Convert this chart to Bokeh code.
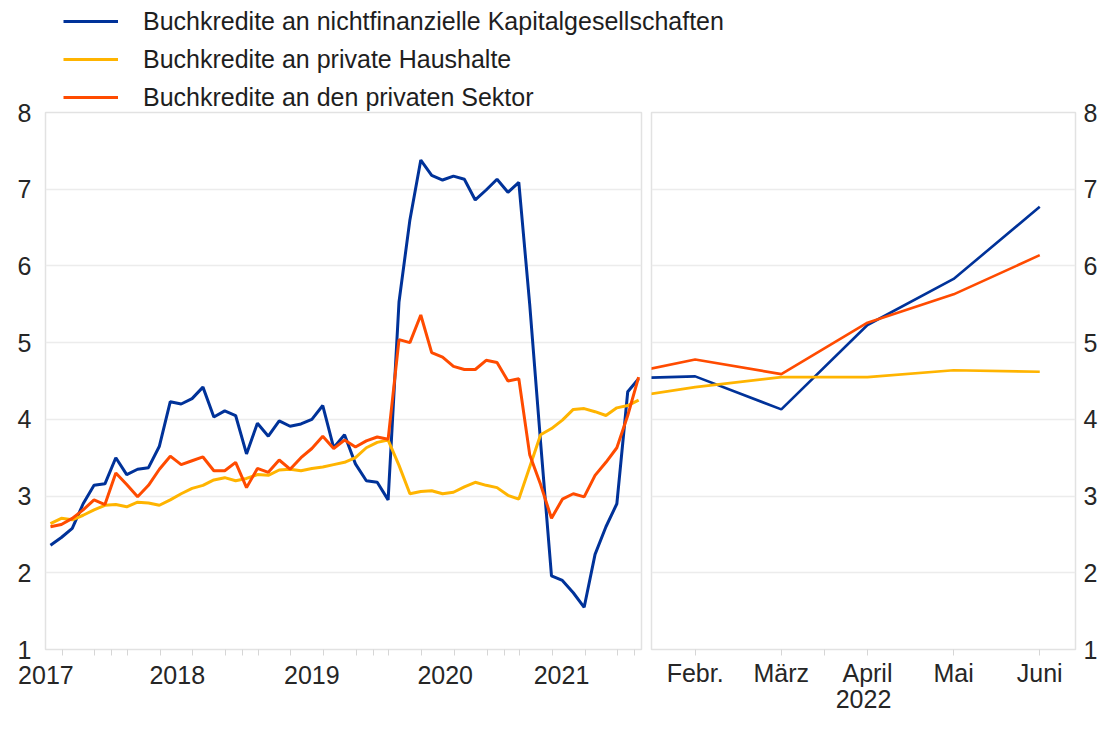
from bokeh.plotting import figure
from bokeh.models import Range1d, FixedTicker, Legend, LegendItem
from bokeh.layouts import row, column
from bokeh.embed import file_html
from bokeh.resources import INLINE

# ---------------- data ----------------
series_labels = [
    "Buchkredite an nichtfinanzielle Kapitalgesellschaften",
    "Buchkredite an private Haushalte",
    "Buchkredite an den privaten Sektor",
]
series_colors = ["#003299", "#FFB400", "#FF4B00"]

# Left panel: monthly values, Jul 2017 - Jan 2022
start_year = 2017
start_month = 7
nfc_monthly = [
    2.36, 2.46, 2.58, 2.90, 3.14, 3.16,
    3.50, 3.28, 3.35, 3.37, 3.65, 4.23, 4.20, 4.27, 4.42, 4.03, 4.11, 4.05,
    3.55, 3.95, 3.78, 3.98, 3.91, 3.94, 4.00, 4.18, 3.63, 3.80, 3.42, 3.20,
    3.18, 2.95, 5.53, 6.60, 7.38, 7.18, 7.12, 7.17, 7.13, 6.86, 6.99, 7.13,
    6.96, 7.09, 5.50, 3.70, 1.96, 1.90, 1.74, 1.55, 2.24, 2.60, 2.90, 4.36,
    4.53,
]
hh_monthly = [
    2.64, 2.71, 2.69, 2.75, 2.82, 2.88,
    2.89, 2.86, 2.92, 2.91, 2.88, 2.95, 3.03, 3.10, 3.14, 3.21, 3.24, 3.20,
    3.23, 3.28, 3.27, 3.34, 3.35, 3.33, 3.36, 3.38, 3.41, 3.44, 3.50, 3.63,
    3.70, 3.73, 3.40, 3.03, 3.06, 3.07, 3.03, 3.05, 3.12, 3.18, 3.14, 3.11,
    3.01, 2.96, 3.38, 3.80, 3.88, 3.99, 4.13, 4.14, 4.10, 4.05, 4.15, 4.18,
    4.25,
]
ps_monthly = [
    2.60, 2.63, 2.71, 2.82, 2.95, 2.89,
    3.30, 3.15, 2.99, 3.14, 3.35, 3.52, 3.41, 3.46, 3.51, 3.33, 3.33, 3.44,
    3.11, 3.36, 3.31, 3.47, 3.35, 3.50, 3.62, 3.78, 3.62, 3.73, 3.64, 3.72,
    3.77, 3.74, 5.04, 5.00, 5.36, 4.87, 4.81, 4.69, 4.65, 4.65, 4.77, 4.74,
    4.50, 4.53, 3.54, 3.15, 2.71, 2.96, 3.03, 2.99, 3.27, 3.44, 3.63, 4.05,
    4.55,
]
year_labels = ["2017", "2018", "2019", "2020", "2021"]

# Right panel: Jan - Jun 2022 (January only as the line's entry point)
month_numbers_2022 = [1, 2, 3, 4, 5, 6]
month_labels_2022 = ["Jan.", "Febr.", "März", "April", "Mai", "Juni"]
nfc_2022 = [4.53, 4.56, 4.13, 5.23, 5.83, 6.77]
hh_2022 = [4.25, 4.42, 4.55, 4.55, 4.64, 4.62]
ps_2022 = [4.55, 4.78, 4.59, 5.26, 5.63, 6.14]
right_year_label = "2022"

y_ticks = [1, 2, 3, 4, 5, 6, 7, 8]

# ---------------- styling ----------------
FONT = "Liberation Sans"
TXT = "#262626"
GRID = "#ececec"
FRAME = "#e2e2e2"
TICK = "#d6d6d6"
W_TOTAL, H_TOTAL = 1100, 715
TOP, BOTTOM = 112, 66
L_BORDER, L_FRAME = 45, 596
LEFT_W = L_BORDER + L_FRAME + 5
R_FRAME = 427
LEG_H = 114          # height of the legend strip (overlaps the chart's top border)
LEG_BLOCK = 106      # 3 rows of 30px + 2 gaps of 8px
LEG_TOP = 6

x_left = [start_year + (start_month - 1) / 12 + i / 12 for i in range(len(nfc_monthly))]
years = [int(s) for s in year_labels]
label_pos = [years[0] + 0.465, years[1] + 0.47, years[2] + 0.5, years[3] + 0.52, years[4] + 0.41]
minor_pos = [y + f for y in years for f in (0.09, 0.34, 0.59, 0.84, 0.97) if 2017.5 < y + f < 2022.02]


def style_common(p):
    p.outline_line_color = FRAME
    p.outline_line_width = 1.5
    p.xgrid.grid_line_color = None
    p.ygrid.grid_line_color = GRID
    p.ygrid.grid_line_width = 1.5
    p.ygrid.ticker = FixedTicker(ticks=y_ticks)
    for ax in p.xaxis + p.yaxis:
        ax.axis_line_color = None
        ax.major_label_text_font = FONT
        ax.major_label_text_font_size = "25px"
        ax.major_label_text_color = TXT
    for ax in p.yaxis:
        ax.ticker = FixedTicker(ticks=y_ticks)
        ax.major_tick_line_color = None
        ax.minor_tick_line_color = None
        ax.major_tick_out = 0


# ---------------- legend strip ----------------
leg_fig = figure(
    width=W_TOTAL, height=LEG_H, x_range=Range1d(0, 1), y_range=Range1d(0, 1),
    output_backend="svg", toolbar_location=None,
    x_axis_location=None, y_axis_location=None,
    min_border=0,
)
leg_fig.outline_line_color = None
leg_fig.grid.grid_line_color = None
leg_fig.background_fill_color = "white"
leg_fig.border_fill_color = "white"
# legend-only renderers: their points lie outside the strip's visible range
leg_renderers = [leg_fig.line(x=[5, 6], y=[5, 6], line_color=c, line_width=3) for c in series_colors]
legend = Legend(
    items=[LegendItem(label=lab, renderers=[r]) for lab, r in zip(series_labels, leg_renderers)],
    location=(63, LEG_H - LEG_BLOCK - LEG_TOP), orientation="vertical",
    label_text_font=FONT, label_text_font_size="25px", label_text_color="#1e1e1e",
    glyph_width=55, glyph_height=30, label_height=30,
    label_standoff=25, spacing=8, padding=0, margin=0,
    border_line_color=None, background_fill_alpha=0,
)
leg_fig.add_layout(legend, "center")

# ---------------- left panel ----------------
left = figure(
    width=W_TOTAL, height=H_TOTAL,
    x_range=Range1d(2017.462, 2022.022), y_range=Range1d(1, 8),
    output_backend="svg", toolbar_location=None,
    min_border_left=L_BORDER, min_border_right=W_TOTAL - L_BORDER - L_FRAME,
    min_border_top=TOP, min_border_bottom=BOTTOM,
)
left.background_fill_alpha = 0
left.border_fill_alpha = 0
style_common(left)

left.line(x_left, nfc_monthly, line_color=series_colors[0], line_width=3)
left.line(x_left, hh_monthly, line_color=series_colors[1], line_width=3)
left.line(x_left, ps_monthly, line_color=series_colors[2], line_width=3)

xa = left.xaxis[0]
xa.ticker = FixedTicker(ticks=label_pos, minor_ticks=minor_pos)
xa.major_label_overrides = {pos: lab for pos, lab in zip(label_pos, year_labels)}
xa.major_tick_line_color = None
xa.major_tick_out = 0
xa.major_tick_in = 0
xa.minor_tick_line_color = TICK
xa.minor_tick_out = 6
xa.minor_tick_in = 0
xa.major_label_standoff = 10
left.yaxis[0].major_label_standoff = 14

# ---------------- right panel ----------------
right = figure(
    width=W_TOTAL - LEFT_W, height=H_TOTAL,
    x_range=Range1d(1.493, 6.415), y_range=Range1d(1, 8),
    output_backend="svg", toolbar_location=None, y_axis_location="right",
    min_border_left=5, min_border_right=W_TOTAL - LEFT_W - 5 - R_FRAME,
    min_border_top=TOP, min_border_bottom=BOTTOM,
    margin=(0, 0, 0, -(W_TOTAL - LEFT_W)),
)
right.background_fill_alpha = 0
right.border_fill_alpha = 0
style_common(right)

right.line(month_numbers_2022, nfc_2022, line_color=series_colors[0], line_width=2.6)
right.line(month_numbers_2022, hh_2022, line_color=series_colors[1], line_width=2.6)
right.line(month_numbers_2022, ps_2022, line_color=series_colors[2], line_width=2.6)

rx = right.xaxis[0]
rx.ticker = FixedTicker(ticks=month_numbers_2022[1:], minor_ticks=[3.5])
rx.major_label_overrides = {m: lab for m, lab in zip(month_numbers_2022, month_labels_2022)}
rx.major_tick_line_color = TICK
rx.major_tick_out = 6
rx.major_tick_in = 0
rx.minor_tick_line_color = TICK
rx.minor_tick_out = 6
rx.minor_tick_in = 0
rx.major_label_standoff = 3
rx.axis_label = right_year_label
rx.axis_label_text_font = FONT
rx.axis_label_text_font_size = "25px"
rx.axis_label_text_font_style = "normal"
rx.axis_label_text_color = TXT
rx.axis_label_standoff = 0
right.yaxis[0].major_label_standoff = 8

charts = row(left, right, margin=(-LEG_H, 0, 0, 0))
layout = column(leg_fig, charts)
open("out.html", "w").write(file_html(layout, INLINE))
